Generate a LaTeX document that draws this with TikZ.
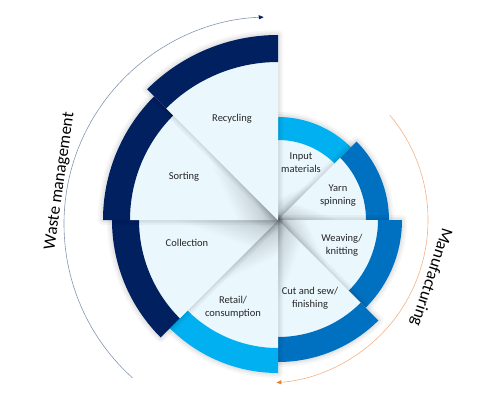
\documentclass[tikz,border=0pt]{standalone}
\usepackage{fontspec}
\setmainfont{Carlito}
\usepackage{tikz}
\usetikzlibrary{calc}
\usetikzlibrary{arrows.meta}

\definecolor{navy}{HTML}{002060}
\definecolor{midblue}{HTML}{0070C0}
\definecolor{skyblue}{HTML}{00B0F0}
\definecolor{paper}{HTML}{EAF7FC}
\definecolor{fold}{HTML}{98A4AA}
\definecolor{foldlight}{HTML}{C9D5DA}
\definecolor{wastegray}{HTML}{8496B0}
\definecolor{mfgorange}{HTML}{F4B183}
\definecolor{mfgtip}{HTML}{ED7D31}
\definecolor{labeltext}{HTML}{262626}

\pgfdeclareverticalshading{foldfade}{100bp}{color(0bp)=(fold); color(25bp)=(fold); color(30bp)=(foldlight); color(39bp)=(paper); color(100bp)=(paper)}

\tikzset{
  wedgelabel/.style={text=labeltext, align=center, font=\fontsize{10.5}{13}\selectfont},
  phaselabel/.style={text=black, font=\fontsize{17}{20}\selectfont},
  halo/.style={preaction={draw=black, draw opacity=0.035, line width=10pt, line join=round},
               preaction={draw=black, draw opacity=0.035, line width=6pt, line join=round},
               preaction={draw=black, draw opacity=0.035, line width=3pt, line join=round}},
  foldshade/.style={transform canvas={rotate=#1}}
}

\begin{document}
\begin{tikzpicture}[x=1pt,y=1pt]
            % wheel centre sits at the origin
            \useasboundingbox (-278,-193) rectangle (214,220);
            \coordinate (C) at (0,0);

            % Input materials
            \path[halo] (C) -- (45:103) arc[start angle=45, end angle=90, radius=103] -- cycle;
            \begin{scope}[foldshade=25]
              \shade[shading=foldfade] (C) -- (20:80) arc[start angle=20, end angle=65, radius=80] -- cycle;
            \end{scope}
            \fill[skyblue] (45:80) arc[start angle=45, end angle=90, radius=80] -- (90:103) arc[start angle=90, end angle=45, radius=103] -- cycle;

            % Yarn spinning
            \path[halo] (C) -- (0:111) arc[start angle=0, end angle=45, radius=111] -- cycle;
            \begin{scope}[foldshade=-20]
              \shade[shading=foldfade] (C) -- (20:88) arc[start angle=20, end angle=65, radius=88] -- cycle;
            \end{scope}
            \fill[midblue] (0:88) arc[start angle=0, end angle=45, radius=88] -- (45:111) arc[start angle=45, end angle=0, radius=111] -- cycle;

            % Weaving/knitting
            \path[halo] (C) -- (-45:124) arc[start angle=-45, end angle=0, radius=124] -- cycle;
            \begin{scope}[foldshade=-65]
              \shade[shading=foldfade] (C) -- (20:100) arc[start angle=20, end angle=65, radius=100] -- cycle;
            \end{scope}
            \fill[midblue] (-45:100) arc[start angle=-45, end angle=0, radius=100] -- (0:124) arc[start angle=0, end angle=-45, radius=124] -- cycle;

            % Cut and sew/finishing
            \path[halo] (C) -- (-90:142) arc[start angle=-90, end angle=-45, radius=142] -- cycle;
            \begin{scope}[foldshade=-110]
              \shade[shading=foldfade] (C) -- (20:117) arc[start angle=20, end angle=65, radius=117] -- cycle;
            \end{scope}
            \fill[midblue] (-90:117) arc[start angle=-90, end angle=-45, radius=117] -- (-45:142) arc[start angle=-45, end angle=-90, radius=142] -- cycle;

            % Retail/consumption
            \path[halo] (C) -- (225:153) arc[start angle=225, end angle=270, radius=153] -- cycle;
            \begin{scope}[foldshade=205]
              \shade[shading=foldfade] (C) -- (20:128) arc[start angle=20, end angle=65, radius=128] -- cycle;
            \end{scope}
            \fill[skyblue] (225:128) arc[start angle=225, end angle=270, radius=128] -- (270:153) arc[start angle=270, end angle=225, radius=153] -- cycle;

            % Collection
            \path[halo] (C) -- (180:166) arc[start angle=180, end angle=225, radius=166] -- cycle;
            \begin{scope}[foldshade=160]
              \shade[shading=foldfade] (C) -- (20:139) arc[start angle=20, end angle=65, radius=139] -- cycle;
            \end{scope}
            \fill[navy] (180:139) arc[start angle=180, end angle=225, radius=139] -- (225:166) arc[start angle=225, end angle=180, radius=166] -- cycle;

            % Sorting
            \path[halo] (C) -- (135:175) arc[start angle=135, end angle=180, radius=175] -- cycle;
            \begin{scope}[foldshade=115]
              \shade[shading=foldfade] (C) -- (20:148) arc[start angle=20, end angle=65, radius=148] -- cycle;
            \end{scope}
            \fill[navy] (135:148) arc[start angle=135, end angle=180, radius=148] -- (180:175) arc[start angle=180, end angle=135, radius=175] -- cycle;

            % Recycling
            \path[halo] (C) -- (90:185) arc[start angle=90, end angle=135, radius=185] -- cycle;
            \fill[paper] (C) -- (90:158) arc[start angle=90, end angle=135, radius=158] -- cycle;
            \fill[navy] (90:158) arc[start angle=90, end angle=135, radius=158] -- (135:185) arc[start angle=135, end angle=90, radius=185] -- cycle;

            % Stage labels
            \node[wedgelabel] (recycling) at (-46,101) {Recycling};
            \node[wedgelabel] (sorting) at (-94,43) {Sorting};
            \node[wedgelabel] (collection) at (-91,-23) {Collection};
            \node[wedgelabel] (retail) at (-45,-87) {Retail/\\consumption};
            \node[wedgelabel] (cutsew) at (32,-78) {Cut and sew/\\finishing};
            \node[wedgelabel] (weaving) at (64,-25) {Weaving/\\knitting};
            \node[wedgelabel] (yarn) at (60,24) {Yarn\\spinning};
            \node[wedgelabel] (input) at (23,57) {Input\\materials};

            % Phase arcs
            \coordinate (wasteC) at (-7,-4);
            \coordinate (wasteStart) at ($(wasteC)+(228:207)$);
            \draw[wastegray, line width=0.6pt, -{Triangle[length=5pt, width=4pt, color=navy]}]
                (wasteStart) arc[start angle=228, end angle=92, radius=207];
            \coordinate (mfgC) at (-13,0);
            \coordinate (mfgStart) at ($(mfgC)+(40:163)$);
            \draw[mfgorange, line width=0.6pt, -{Triangle[length=5pt, width=4pt, color=mfgtip]}]
                (mfgStart) arc[start angle=40, end angle=-86, radius=163];

            % Phase names
            \node[phaselabel, rotate=82] (waste) at (-218,39) {Waste management};
            \node[phaselabel, rotate=-108] (mfg) at (153,-57) {Manufacturing};
\end{tikzpicture}
\end{document}
